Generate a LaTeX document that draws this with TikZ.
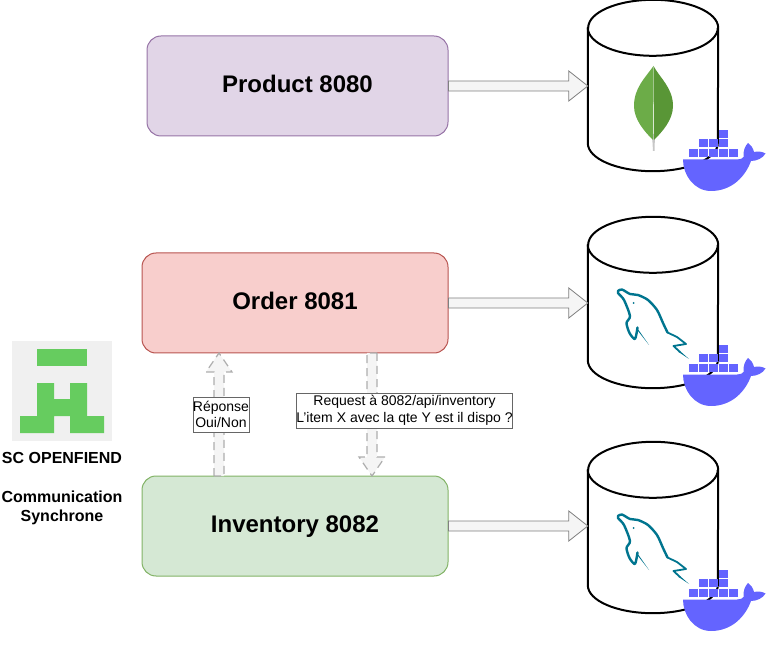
\documentclass[tikz,border=0pt]{standalone}
\usepackage{fontspec}
\setmainfont{Liberation Sans}
\usepackage{tikz}
\usetikzlibrary{shapes, arrows.meta, positioning, calc}

\definecolor{dockerblue}{HTML}{6464FF}
\definecolor{dolphinteal}{HTML}{00758F}
\definecolor{logogreen}{HTML}{66CC5F}
\definecolor{leaflight}{HTML}{6CAC48}
\definecolor{leafdark}{HTML}{599636}
\definecolor{productfill}{HTML}{E1D5E7}
\definecolor{productline}{HTML}{9673A6}
\definecolor{orderfill}{HTML}{F8CECC}
\definecolor{orderline}{HTML}{B85450}
\definecolor{inventoryfill}{HTML}{D5E8D4}
\definecolor{inventoryline}{HTML}{82B366}

\tikzset{
    service/.style={draw=#1line, fill=#1fill, line width=1pt, rounded corners=14pt, minimum height=100pt, inner sep=0pt,
        text height=18pt, text depth=4.6pt, font=\bfseries\fontsize{24}{28}\selectfont},
    dbnode/.style={minimum width=130pt, minimum height=171pt, inner sep=0pt},
    dbline/.style={draw=black, fill=white, line width=2pt},
    flexline/.style={draw=black!50, fill=black!4, line width=0.8pt, line join=miter},
    flexdash/.style={draw=black!32, fill=black!4, line width=1.2pt, dash pattern=on 8pt off 5pt},
    msgbox/.style={draw=black!60, fill=white, line width=0.8pt, inner sep=0pt, align=center,
        font=\fontsize{14}{16.5}\selectfont},
    whale/.pic={
        \fill[dockerblue] (3,39.5) -- (57,39.5) .. controls (60,39.5) and (63,38.5) .. (63.5,37)
            .. controls (63,31) and (65,26) .. (68,23) .. controls (71,25) and (73,28) .. (74,32)
            .. controls (78,31) and (82,31.5) .. (85.5,33.5) .. controls (83,38) and (77,41) .. (71,41)
            .. controls (66,55) and (53,71) .. (31,71) .. controls (14,71) and (3,55) .. (3,39.5) -- cycle;
        \foreach \cx/\cy in {9/28.7, 19/28.7, 29/28.7, 39/28.7, 49/28.7, 19/19, 29/19, 39/19, 39/9.7} {
            \fill[dockerblue] (\cx,\cy) rectangle ++(8.8,8.4);
        }
    },
    dolphin/.pic={
        \draw[dolphinteal, line width=2.4pt, line join=round, line cap=round]
            plot[smooth, tension=0.45] coordinates {(57.5,117.5) (55,129) (49.5,123)
                (46.5,113) (50,106) (44,90) (38,83) (38,81) (42,79.5) (50,84) (58,85) (68,90)
                (77,100) (83,113) (87.5,122.5)};
        \draw[dolphinteal, line width=1.8pt, line join=round]
            (87.5,122.5) -- (97,127) -- (106,134) -- (93.5,136) -- (100,142);
        \fill[dolphinteal] (100,141) -- (109,149) -- (98.5,142) -- cycle;
        \fill[dolphinteal] (56.5,117) -- (69,135) -- (58,121) -- cycle;
        \fill[dolphinteal] (53.5,93) circle (1pt);
    }
}
\newcommand{\flexhead}{15pt}
\newcommand{\flexarrow}[3][flexline]{
    \coordinate (fh) at ($(#3)!19pt!(#2)$);
    \draw[#1] ($(#2)!5pt!90:(#3)$) -- ($(fh)!5pt!-90:(#2)$) -- ($(fh)!\flexhead!-90:(#2)$) -- (#3)
        -- ($(fh)!\flexhead!90:(#2)$) -- ($(fh)!5pt!90:(#2)$) -- ($(#2)!5pt!-90:(#3)$) -- cycle;
}

\begin{document}
\begin{tikzpicture}[x=1pt, y=-1pt]
    \useasboundingbox (0,0) rectangle (774,652);

    % Services
    \node[service=product, minimum width=301pt] (product) at (297.5,86) {Product 8080};
    \node[service=order, minimum width=306pt] (order) at (295,303) {Order 8081};
    \node[service=inventory, minimum width=306pt] (inventory) at (295,526) {Inventory 8082};

    % Databases
    \foreach \n/\y in {dbproduct/85.5, dborder/302.5, dbinventory/527.5} {
        \node[dbnode] (\n) at (653,\y) {};
        \draw[dbline] ($(\n.north west)+(0,28)$) -- ($(\n.south west)+(0,-28)$)
            arc (180:360:65pt and 28pt) -- ($(\n.north east)+(0,28)$)
            arc (0:180:65pt and 28pt) -- cycle;
        \draw[dbline, fill=none] ($(\n.north west)+(0,28)$) arc (180:360:65pt and 28pt);
    }

    % Arrows to the databases
    \foreach \s/\d in {product/dbproduct, order/dborder, inventory/dbinventory} {
        \coordinate (\s from) at (\s.east);
        \coordinate (\s to) at (\d.west |- \s.east);
        \flexarrow{\s from}{\s to}
    }

    % Synchronous calls
    \coordinate (resp from) at (219,476);
    \coordinate (resp to) at (219,353);
    \coordinate (req from) at (372,353);
    \coordinate (req to) at (372,476);
    \renewcommand{\flexhead}{13pt}
    \flexarrow[flexdash]{resp from}{resp to}
    \flexarrow[flexdash]{req from}{req to}
    \node[msgbox, minimum width=56pt, minimum height=35pt] (resp) at (221,414.5) {Réponse\\Oui/Non};
    \node[msgbox, minimum width=215pt, minimum height=35pt] (req) at (404.5,410.5) {Request à 8082/api/inventory\\L'item X avec la qte Y est il dispo ?};

    % Mongo leaf
    \fill[black!22] (652,134) -- (655,134) -- (654.5,151) -- (653,151) -- cycle;
    \fill[leaflight] (653.5,66) .. controls (645,78) and (634,88) .. (634,106)
        .. controls (634,120) and (645,132) .. (653,140) -- cycle;
    \fill[leafdark] (653.5,66) .. controls (660,78) and (673,88) .. (673,106)
        .. controls (673,120) and (662,132) .. (654,140) -- cycle;

    % MySQL dolphins and Docker whales
    \foreach \y in {210, 435} {
        \pic at (580,\y) {dolphin};
    }
    \foreach \y in {120, 335, 560} {
        \pic at (680,\y) {whale};
    }

    % Logo
    \node[fill=black!6, minimum size=100pt, inner sep=0pt] (logo) at (62,391) {};
    \fill[logogreen] (37,349) rectangle (87,366);
    \fill[logogreen] (37,383) -- (54,383) -- (54,399) -- (70,399) -- (70,383) -- (87,383) -- (87,416)
        -- (104,416) -- (104,433) -- (70,433) -- (70,416) -- (54,416) -- (54,433) -- (20,433) -- (20,416) -- (37,416) -- cycle;
    \node[below=11pt of logo, align=center, inner sep=0pt, font=\bfseries\fontsize{16}{19}\selectfont] (caption)
        {SC OPENFIEND\\[19.5pt]Communication\\Synchrone};
\end{tikzpicture}
\end{document}
